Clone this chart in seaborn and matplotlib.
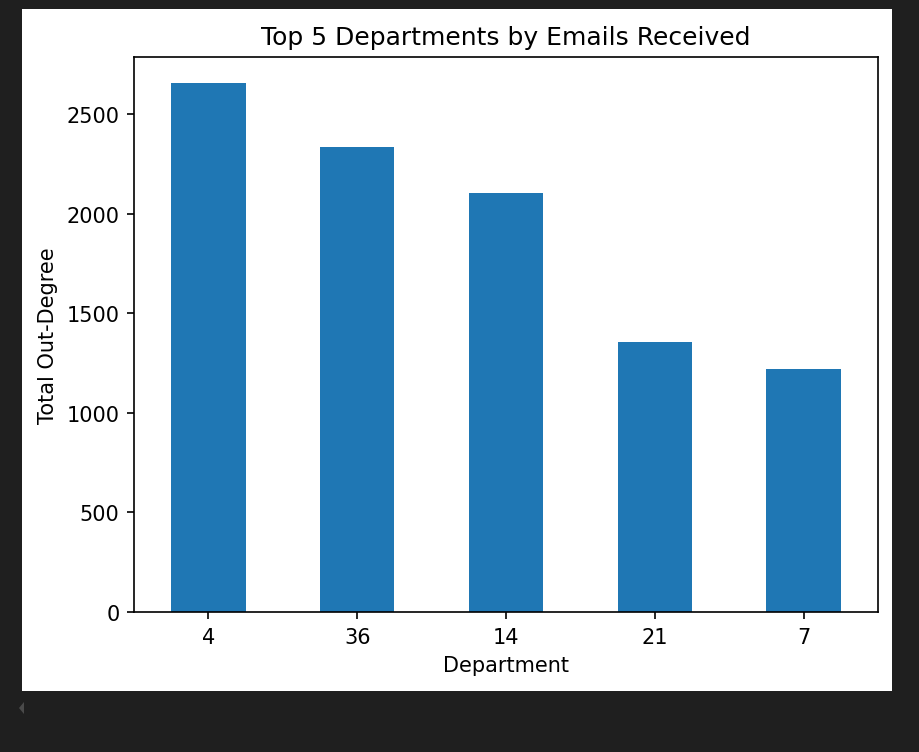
import numpy as np
import pandas as pd
import matplotlib
matplotlib.use("Agg")
import matplotlib.pyplot as plt
from matplotlib.patches import Rectangle, Polygon
import seaborn as sns

departments = ['4', '36', '14', '21', '7']
out_degree = [2655, 2337, 2106, 1358, 1222]

df = pd.DataFrame({'Department': departments, 'Total Out-Degree': out_degree})

W, H = 919, 753
fig = plt.figure(figsize=(W / 150, H / 150), dpi=150, facecolor='#1f1f1f')

# white output panel, like a notebook cell (kept behind the axes)
fig.patches.append(Rectangle((22 / W, 1 - 692 / H), 870 / W, 682 / H,
                             transform=fig.transFigure, facecolor='white',
                             edgecolor='none', zorder=-10))
# little scroll arrow below the panel
fig.patches.append(Polygon([(19 / W, 1 - 709 / H), (24 / W, 1 - 703 / H), (24 / W, 1 - 715 / H)],
                           closed=True, transform=fig.transFigure,
                           facecolor='#4a4a4a', edgecolor='none', zorder=-10))

ax = fig.add_axes([134 / W, 1 - 613 / H, 744 / W, 555 / H])
sns.barplot(data=df, x='Department', y='Total Out-Degree', order=departments,
            color='#1f77b4', saturation=1, width=0.5, linewidth=0, ax=ax)

ax.set_xlim(-0.5, 4.5)
ax.set_ylim(0, max(out_degree) * 1.05)
ax.set_title('Top 5 Departments by Emails Received', fontsize=12)
ax.set_xlabel('Department', fontsize=10)
ax.set_ylabel('Total Out-Degree', fontsize=10)
ax.tick_params(labelsize=10)

fig.savefig('out.png', dpi=150, facecolor=fig.get_facecolor())
